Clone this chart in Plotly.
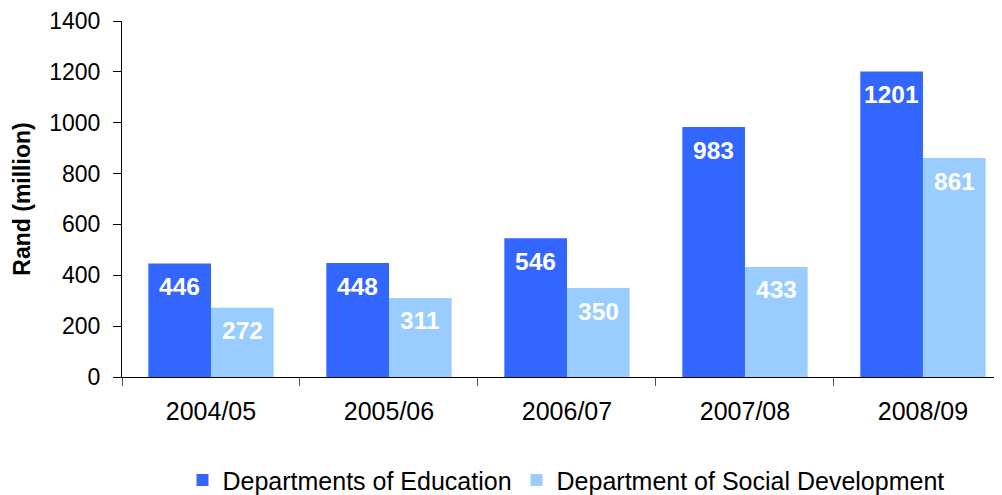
import plotly.graph_objects as go

categories = ["2004/05", "2005/06", "2006/07", "2007/08", "2008/09"]
education = [446, 448, 546, 983, 1201]
social = [272, 311, 350, 433, 861]
series_names = ["Departments of Education", "Department of Social Development"]
y_ticks = [0, 200, 400, 600, 800, 1000, 1200, 1400]

FONT = "Liberation Sans, Arial, sans-serif"
c_edu = "#3366FF"
c_soc = "#99CCFF"

fig = go.Figure()
fig.add_trace(go.Bar(name=series_names[0], x=categories, y=education,
                     marker=dict(color=c_edu, line=dict(width=0))))
fig.add_trace(go.Bar(name=series_names[1], x=categories, y=social,
                     marker=dict(color=c_soc, line=dict(width=0))))

bargap = 0.296
half = (1 - bargap) / 4
for i, cat in enumerate(categories):
    for val, off in ((education[i], -half), (social[i], half)):
        fig.add_annotation(x=i + off, y=val, xref="x", yref="y", text="<b>%d</b>" % val,
                           showarrow=False, yanchor="middle", yshift=-23,
                           font=dict(family=FONT, size=24.5, color="white"))

fig.update_layout(
    width=1002, height=495,
    margin=dict(l=114, r=0, t=13, b=126, autoexpand=False),
    paper_bgcolor="white", plot_bgcolor="white",
    barmode="group", bargap=bargap, bargroupgap=0,
    font=dict(family=FONT, size=23, color="black"),
    showlegend=True,
    legend=dict(orientation="h", x=0.5, xanchor="center", y=-0.29, yanchor="middle",
                font=dict(size=25, color="black"),
                itemsizing="constant", itemwidth=30, traceorder="normal"),
)
fig.update_xaxes(
    type="category", range=[-0.5, 4.489], showline=True, linecolor="black", linewidth=1,
    ticks="outside", tickson="boundaries", ticklen=8, tickcolor="#555555",
    showgrid=False, tickfont=dict(size=25), fixedrange=True, automargin=False,
    ticklabelstandoff=12,
)
fig.update_yaxes(
    range=[0, 1400], tickvals=y_ticks, showline=True, linecolor="black", linewidth=1,
    ticks="outside", ticklen=8, tickcolor="black", showgrid=False, zeroline=False,
    tickfont=dict(size=23), automargin=False, ticklabelstandoff=8,
    title=dict(text="<b>Rand (million)</b>", font=dict(size=23), standoff=12),
)
fig.write_html("out.html")
